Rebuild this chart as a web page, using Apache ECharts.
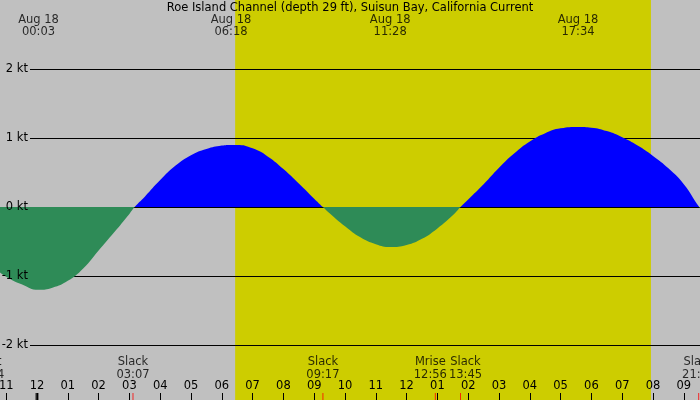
<!DOCTYPE html>
<html>
<head>
<meta charset="utf-8">
<script src="https://cdn.jsdelivr.net/npm/echarts@6.0.0/dist/echarts.min.js"></script>
<style>
    html, body { margin: 0; padding: 0; background: #c0c0c0; }
    #chart { width: 700px; height: 400px; }
</style>
</head>
<body>
<div id="chart"></div>
<script>
    // current speed, hours from midnight Aug 18 (negative = Aug 17), knots (+ flood, - ebb)
    var currentHours = [-1.25, -1.0, -0.5, 0.05, 0.5, 1.0, 1.5, 2.0, 2.5, 3.0, 3.17,
        3.5, 4.0, 4.5, 5.0, 5.5, 6.0, 6.3, 6.5, 7.0, 7.5, 8.0, 8.5, 9.0, 9.28,
        9.5, 10.0, 10.5, 11.0, 11.47, 12.0, 12.5, 13.0, 13.5, 13.75,
        14.0, 14.5, 15.0, 15.5, 16.0, 16.5, 17.0, 17.57, 18.0, 18.5, 19.0, 19.5,
        20.0, 20.5, 21.0, 21.5, 21.7];
    var currentKnots = [-0.93, -1.01, -1.12, -1.20, -1.17, -1.07, -0.89, -0.63, -0.37, -0.10, 0,
        0.15, 0.39, 0.60, 0.75, 0.84, 0.89, 0.90, 0.90, 0.85, 0.73, 0.55, 0.34, 0.12, 0,
        -0.09, -0.28, -0.44, -0.54, -0.58, -0.55, -0.46, -0.31, -0.12, 0,
        0.11, 0.33, 0.57, 0.78, 0.95, 1.07, 1.14, 1.16, 1.15, 1.10, 1.01, 0.89,
        0.74, 0.56, 0.33, 0, -0.10];

    // max flood / ebb times shown at the top
    var peakDates = ['Aug 18', 'Aug 18', 'Aug 18', 'Aug 18'];
    var peakTimes = ['00:03', '06:18', '11:28', '17:34'];

    // slack and moon events shown at the bottom
    var eventNames = ['Mset', 'Slack', 'Slack', 'Mrise', 'Slack', 'Slack'];
    var eventTimes = ['22:24', '03:07', '09:17', '12:56', '13:45', '21:29'];
    var eventDays = [-1, 0, 0, 0, 0, 0];

    var sunrise = '06:26';
    var sunset = '19:56';
    var dayStarts = [0];

    var kt = [-2, -1, 0, 1, 2];

    function toHours(t, day) {
        var p = t.split(':');
        return (day || 0) * 24 + parseInt(p[0], 10) + parseInt(p[1], 10) / 60;
    }

    function hourLabel(v) {
        var h = ((v % 12) + 12) % 12;
        if (h === 0) return '12';
        return h < 10 ? '0' + h : '' + h;
    }

    var font = 'DejaVu Sans';
    var fs = 11.5;
    var currentData = currentHours.map(function (h, i) { return [h, currentKnots[i]]; });
    var peakData = peakTimes.map(function (t) { return [toHours(t), 3]; });
    var eventData = eventTimes.map(function (t, i) { return [toHours(t, eventDays[i]), 0]; });
    var dayData = dayStarts.map(function (h) { return [h, 0]; });

    var chart = echarts.init(document.getElementById('chart'));
    var option = {
        animation: false,
        backgroundColor: '#c0c0c0',
        title: {
            text: 'Roe Island Channel (depth 29 ft), Suisun Bay, California Current',
            left: 'center',
            top: 2,
            padding: 0,
            textStyle: { fontFamily: font, fontSize: fs, fontWeight: 'normal', color: '#000' }
        },
        grid: [
            { left: -24.6, right: -14.6, top: 0, bottom: -14, outerBoundsMode: 'none' },  // data
            { left: 30, right: 0, top: 0, bottom: -14, outerBoundsMode: 'none' },          // kt grid lines
            { left: -24.6, right: -14.6, top: 0, bottom: 0, outerBoundsMode: 'none' }      // hour axis
        ],
        xAxis: [
            { gridIndex: 0, type: 'value', min: -2, max: 22, show: false },
            { gridIndex: 1, type: 'value', min: 0, max: 1, show: false },
            {
                gridIndex: 2, type: 'value', min: -2, max: 22, interval: 1, z: 5,
                axisLine: { show: false },
                splitLine: { show: false },
                axisTick: { inside: true, length: 7, lineStyle: { color: '#000', width: 1 } },
                axisLabel: {
                    inside: true, margin: 8, color: '#000', fontFamily: font, fontSize: fs,
                    formatter: hourLabel
                }
            }
        ],
        yAxis: [
            { gridIndex: 0, type: 'value', min: -3, max: 3, show: false },
            {
                gridIndex: 1, type: 'value', min: -3, max: 3, interval: 1, position: 'left', z: 2,
                axisLine: { show: false }, axisTick: { show: false }, axisLabel: { show: false },
                splitLine: { show: true, showMaxLine: false, lineStyle: { color: '#000', width: 1 } }
            },
            {
                gridIndex: 1, type: 'value', min: -3, max: 3, interval: 1, position: 'left', z: 5,
                axisLine: { show: false }, axisTick: { show: false }, splitLine: { show: false },
                axisLabel: {
                    margin: 2, color: '#000', fontFamily: font, fontSize: fs,
                    showMinLabel: false, showMaxLabel: false,
                    formatter: function (v) { return kt.indexOf(v) >= 0 ? v + ' kt' : ''; }
                }
            },
            { gridIndex: 2, type: 'value', min: 0, max: 1, show: false }
        ],
        visualMap: {
            type: 'piecewise',
            show: false,
            seriesIndex: 0,
            dimension: 1,
            pieces: [
                { min: -3, max: 0, color: '#2e8b57' },
                { gt: 0, lte: 3, color: '#0000ff' }
            ]
        },
        series: [
            {
                name: 'Current',
                type: 'line',
                xAxisIndex: 0,
                yAxisIndex: 0,
                z: 3,
                smooth: 0.5,
                showSymbol: false,
                lineStyle: { width: 0 },
                areaStyle: { opacity: 1 },
                data: currentData,
                markArea: {
                    z: 1,
                    silent: true,
                    itemStyle: { color: '#cdcd00', opacity: 1 },
                    data: [[{ xAxis: toHours(sunrise) }, { xAxis: toHours(sunset) }]]
                }
            },
            {
                name: 'Peaks',
                type: 'scatter',
                xAxisIndex: 0,
                yAxisIndex: 0,
                z: 6,
                clip: false,
                symbolSize: 1,
                itemStyle: { color: 'rgba(0,0,0,0)' },
                label: {
                    show: true,
                    position: 'bottom',
                    distance: 14,
                    color: '#000',
                    fontFamily: font,
                    fontSize: fs,
                    lineHeight: 12,
                    align: 'center',
                    formatter: function (p) { return peakDates[p.dataIndex] + '\n' + peakTimes[p.dataIndex]; }
                },
                data: peakData
            },
            {
                name: 'Events',
                type: 'scatter',
                xAxisIndex: 2,
                yAxisIndex: 3,
                z: 6,
                clip: false,
                symbol: 'rect',
                symbolSize: [1, 14],
                itemStyle: { color: '#ff0000' },
                label: {
                    show: true,
                    position: 'top',
                    distance: 11.5,
                    color: '#000',
                    fontFamily: font,
                    fontSize: fs,
                    lineHeight: 13,
                    align: 'center',
                    formatter: function (p) { return eventNames[p.dataIndex] + '\n' + eventTimes[p.dataIndex]; }
                },
                data: eventData
            },
            {
                name: 'Midnight',
                type: 'scatter',
                xAxisIndex: 2,
                yAxisIndex: 3,
                z: 6,
                clip: false,
                symbol: 'rect',
                symbolSize: [3, 14],
                itemStyle: { color: '#000' },
                data: dayData
            }
        ]
    };
    chart.setOption(option);

    // push apart event labels that would overlap (e.g. Mrise / Slack)
    var ctx = document.createElement('canvas').getContext('2d');
    ctx.font = fs + 'px "' + font + '"';
    var ex = eventData.map(function (d) { return chart.convertToPixel({ xAxisIndex: 2 }, d[0]); });
    var ew = eventNames.map(function (n, i) {
        return Math.max(ctx.measureText(n).width, ctx.measureText(eventTimes[i]).width);
    });
    var shifts = ex.map(function () { return 0; });
    for (var i = 0; i < ex.length - 1; i++) {
        var need = (ew[i] + ew[i + 1]) / 2 + 2 - (ex[i + 1] - ex[i]);
        if (need > 0) {
            shifts[i] -= need / 2;
            shifts[i + 1] += need / 2;
        }
    }
    chart.setOption({
        series: [{}, {}, {
            labelLayout: function (p) { return { dx: shifts[p.dataIndex] }; }
        }, {}]
    });
</script>
</body>
</html>
